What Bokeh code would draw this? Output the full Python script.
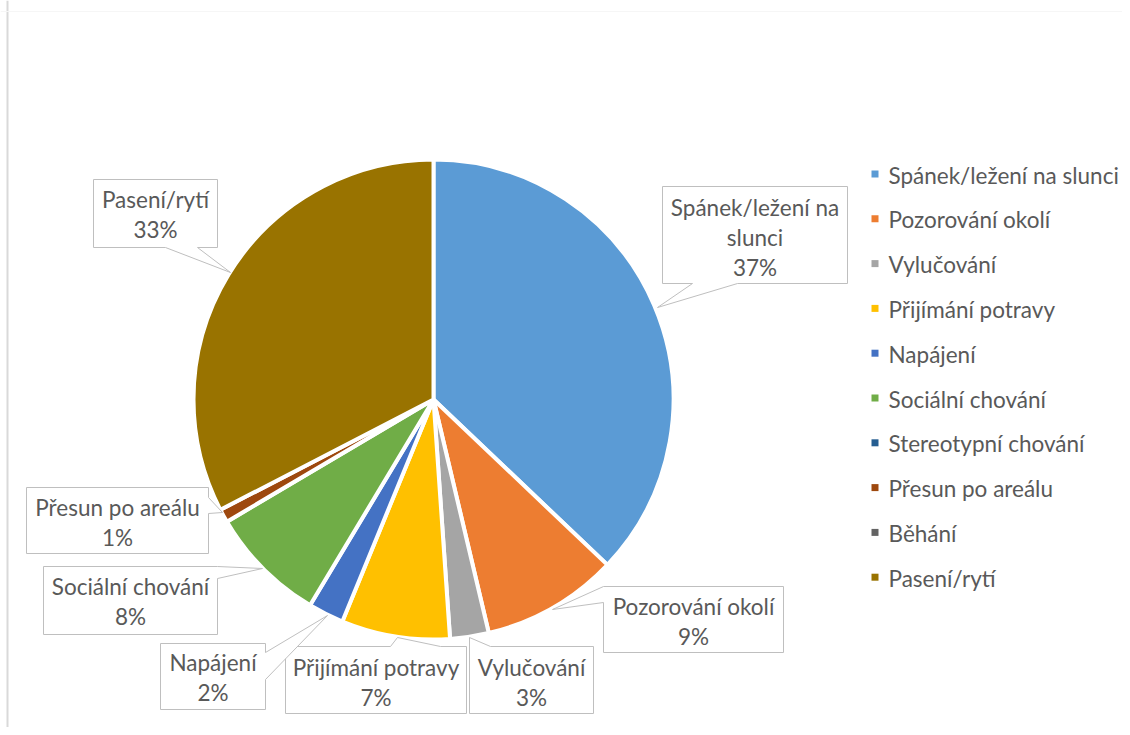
import textwrap
import numpy as np
from bokeh.plotting import figure
from bokeh.models import Range1d, ColumnDataSource, Span
from bokeh.core.properties import value
from bokeh.embed import file_html
from bokeh.resources import INLINE

# ---------------- data ----------------
categories = [
    "Spánek/ležení na slunci",
    "Pozorování okolí",
    "Vylučování",
    "Přijímání potravy",
    "Napájení",
    "Sociální chování",
    "Stereotypní chování",
    "Přesun po areálu",
    "Běhání",
    "Pasení/rytí",
]
values = [37.1, 9.2, 2.6, 7.3, 2.4, 7.9, 0.0, 0.9, 0.0, 32.6]
colors = ["#5B9BD5", "#ED7D31", "#A5A5A5", "#FFC000", "#4472C4",
          "#70AD47", "#255E91", "#9E480E", "#636363", "#997300"]

# ---------------- layout (screen px) ----------------
W, H = 1122, 727
FONT = value("Lato")
FS = "22.5px"
TXT = "#595959"


def Y(sy):
    return H - sy


CX, CY, R = 433, 399, 240

# callout boxes: (polygon in screen coords, text centre)
callouts = {
    "Spánek/ležení na slunci": ([(662, 186), (847, 186), (847, 283), (737, 283), (657, 307), (692, 283), (662, 283)], (754.5, 237)),
    "Pozorování okolí": ([(603, 586), (783, 586), (783, 652), (603, 652), (603, 602), (552, 609)], (693, 621)),
    "Vylučování": ([(469, 713), (469, 637), (490, 646), (593, 646), (593, 713)], (531, 682)),
    "Přijímání potravy": ([(285, 646), (390, 646), (397, 637), (440, 646), (466, 646), (466, 713), (285, 713)], (375.5, 682)),
    "Napájení": ([(160, 643), (265, 643), (265, 652), (327, 615), (265, 679), (265, 709), (160, 709)], (212.5, 677)),
    "Sociální chování": ([(43, 566), (217, 566), (262, 568), (217, 578), (217, 634), (43, 634)], (130, 601)),
    "Přesun po areálu": ([(26, 487), (208, 487), (208, 497), (222, 512), (208, 513), (208, 553), (26, 553)], (117, 522)),
    "Pasení/rytí": ([(93, 179), (217, 179), (217, 247), (197, 247), (230, 272), (165, 247), (93, 247)], (155, 214)),
}

p = figure(width=W, height=H, x_range=Range1d(0, W), y_range=Range1d(0, H),
           output_backend="svg", toolbar_location=None, min_border=0,
           x_axis_location=None, y_axis_location=None)
p.grid.visible = False
p.outline_line_color = None
p.background_fill_color = "white"
p.border_fill_color = "white"

p.add_layout(Span(location=7, dimension="height", line_color="#d9d9d9", line_width=2))
p.add_layout(Span(location=Y(11), dimension="width", line_color="#f6f6f6", line_width=1))

# ---------------- pie ----------------
vals = np.array(values, dtype=float)
frac = vals / vals.sum()
cum = np.concatenate([[0.0], np.cumsum(frac)])
start = np.pi / 2 - cum[:-1] * 2 * np.pi
end = np.pi / 2 - cum[1:] * 2 * np.pi
mask = vals > 0
src = ColumnDataSource(dict(
    start=start[mask], end=end[mask],
    color=[c for c, m in zip(colors, mask) if m],
))
p.wedge(x=CX, y=Y(CY), radius=R, start_angle="start", end_angle="end",
        direction="clock", fill_color="color", line_color="white",
        line_width=4, source=src)

# ---------------- callouts ----------------
pcts = [int(f * 100 + 0.5) for f in frac]
xs, ys, tx, ty, tt = [], [], [], [], []
for cat, pct, v in zip(categories, pcts, vals):
    if v <= 0 or cat not in callouts:
        continue
    poly, (cx, cy) = callouts[cat]
    xs.append([q[0] for q in poly])
    ys.append([Y(q[1]) for q in poly])
    tx.append(cx)
    ty.append(Y(cy))
    tt.append("\n".join(textwrap.wrap(cat, 17)) + f"\n{pct}%")
p.patches(xs=xs, ys=ys, fill_color="white", line_color="#bfbfbf", line_width=1)
p.text(x=tx, y=ty, text=tt, text_font=FONT, text_font_size=FS, text_color=TXT,
       text_align="center", text_baseline="middle", text_line_height=1.12)

# ---------------- legend ----------------
ly = [Y(173.5 + i * 44.8) for i in range(len(categories))]
p.scatter(x=[874.5] * len(categories), y=ly, marker="square", size=7,
          fill_color=colors, line_color=None)
p.text(x=[888] * len(categories), y=[v - 1 for v in ly], text=categories,
       text_font=FONT, text_font_size=FS, text_color=TXT,
       text_align="left", text_baseline="middle")

open("out.html", "w").write(file_html(p, INLINE))
